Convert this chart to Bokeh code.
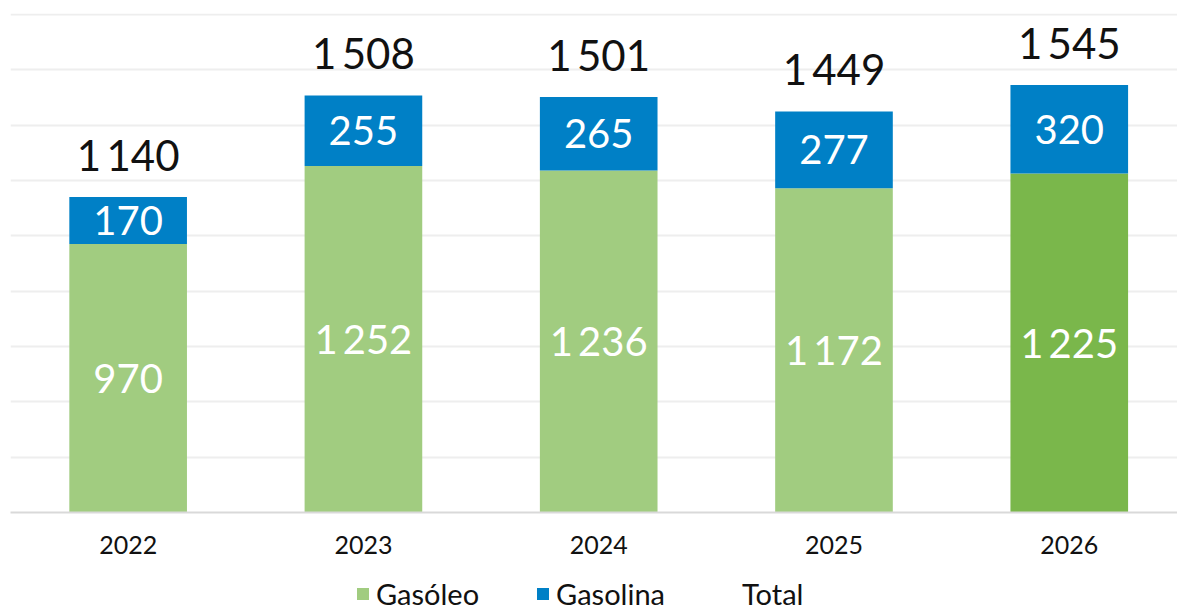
from bokeh.plotting import figure
from bokeh.layouts import column
from bokeh.models import ColumnDataSource, Range1d, Legend, LegendItem
from bokeh.core.properties import value
from bokeh.embed import file_html
from bokeh.resources import INLINE

# ---- data ----
years = ["2022", "2023", "2024", "2025", "2026"]
gasoleo = [970, 1252, 1236, 1172, 1225]
gasolina = [170, 255, 265, 277, 320]
totals = [1140, 1508, 1501, 1449, 1545]
series_names = ["Gasóleo", "Gasolina", "Total"]

# ---- styles ----
GREEN = "#A1CC80"
GREEN_DARK = "#7AB74B"
BLUE = "#0080C6"
FONT = "Lato"
gasoleo_colors = [GREEN, GREEN, GREEN, GREEN, GREEN_DARK]


def fmt(v):
    return f"{v:,}".replace(",", "\u2009")


x = list(range(len(years)))
stack_top = [a + b for a, b in zip(gasoleo, gasolina)]

src = ColumnDataSource(dict(
    x=x,
    gasoleo=gasoleo,
    gasolina=gasolina,
    stack_top=stack_top,
    totals=totals,
    colors=gasoleo_colors,
    mid_gasoleo=[g / 2 for g in gasoleo],
    mid_gasolina=[g + b / 2 for g, b in zip(gasoleo, gasolina)],
    lab_gasoleo=[fmt(v) for v in gasoleo],
    lab_gasolina=[fmt(v) for v in gasolina],
    lab_total=[fmt(v) for v in totals],
))

p = figure(width=1177, height=566, output_backend="svg", toolbar_location=None,
           x_range=Range1d(-0.5, 4.46), y_range=Range1d(0, 1803),
           min_border_left=10, min_border_right=0, min_border_top=13, min_border_bottom=54)
p.outline_line_color = None
p.background_fill_color = "white"
p.border_fill_color = "white"

p.yaxis.visible = False
p.yaxis.ticker = list(range(0, 1801, 200))
p.ygrid.grid_line_color = "#EEEEEE"
p.ygrid.grid_line_width = 2
p.xgrid.grid_line_color = None

p.xaxis.ticker = x
p.xaxis.major_label_overrides = {i: y for i, y in zip(x, years)}
p.xaxis.major_tick_line_color = None
p.xaxis.minor_tick_line_color = None
p.xaxis.axis_line_color = "#D9D9D9"
p.xaxis.axis_line_width = 2
p.xaxis.major_label_text_font = FONT
p.xaxis.major_label_text_font_size = "25px"
p.xaxis.major_label_text_color = "#111111"
p.xaxis.major_label_standoff = 17

p.vbar(x="x", width=0.5, bottom=0, top="gasoleo", fill_color="colors",
       line_color=None, source=src)
p.vbar(x="x", width=0.5, bottom="gasoleo", top="stack_top", fill_color=BLUE,
       line_color=None, source=src)

p.text(x="x", y="mid_gasoleo", text="lab_gasoleo", source=src, text_color="white",
       text_font=value(FONT), text_font_size="40px", text_align="center",
       text_baseline="middle")
p.text(x="x", y="mid_gasolina", text="lab_gasolina", source=src, text_color="white",
       text_font=value(FONT), text_font_size="40px", text_align="center",
       text_baseline="middle")
p.text(x="x", y="totals", text="lab_total", source=src, text_color="#111111",
       text_font=value(FONT), text_font_size="42px", text_align="center",
       text_baseline="alphabetic", y_offset=-42)

# ---- legend strip (swatches only; the dummy point lies outside the visible range) ----
lg = figure(width=1177, height=45, output_backend="svg", toolbar_location=None,
            x_range=Range1d(0, 1), y_range=Range1d(0, 1),
            min_border_left=0, min_border_right=0, min_border_top=0, min_border_bottom=0)
lg.axis.visible = False
lg.grid.visible = False
lg.outline_line_color = None
dummy = ColumnDataSource(dict(x=[-10], y=[-10]))
d1 = lg.vbar(x="x", top="y", width=0.1, fill_color=GREEN, line_color=None, source=dummy)
d2 = lg.vbar(x="x", top="y", width=0.1, fill_color=BLUE, line_color=None, source=dummy)
d3 = lg.vbar(x="x", top="y", width=0.1, fill_alpha=0, line_alpha=0, source=dummy)

legend = Legend(items=[LegendItem(label=series_names[0], renderers=[d1]),
                       LegendItem(label=series_names[1], renderers=[d2]),
                       LegendItem(label=series_names[2], renderers=[d3])],
                orientation="horizontal", location=(345, 0))
legend.glyph_width = 15
legend.glyph_height = 15
legend.label_height = 20
legend.label_standoff = 6
legend.spacing = 56
legend.padding = 0
legend.margin = 0
legend.border_line_color = None
legend.background_fill_alpha = 0
legend.label_text_font = FONT
legend.label_text_font_size = "29px"
legend.label_text_color = "#111111"
lg.add_layout(legend, "center")

layout = column(p, lg, spacing=0)
open("out.html", "w").write(file_html(layout, INLINE))
